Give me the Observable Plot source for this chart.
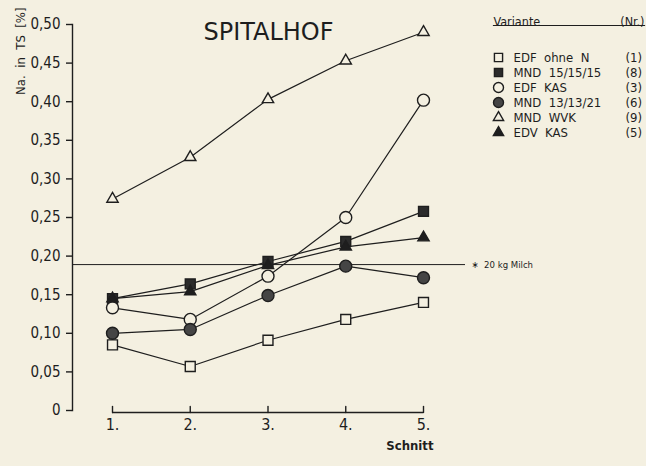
<!DOCTYPE html>
<html><head><meta charset="utf-8">
<script src="https://cdn.jsdelivr.net/npm/d3@7"></script>
<script src="https://cdn.jsdelivr.net/npm/@observablehq/plot@0.6"></script>
<style>
html,body{margin:0;padding:0;background:#f4f0e1;}
#wrap{position:relative;width:646px;height:466px;overflow:hidden;}
#legend{position:absolute;left:480px;top:0;}
svg text{white-space:pre;}
</style></head><body><div id="wrap"><div id="main"></div><div id="legend"></div></div>
<script>
// ---- data ----
const schnitt = [1, 2, 3, 4, 5];
const xTickLabels = ["1.", "2.", "3.", "4.", "5."];
const yTicks = [0, 0.05, 0.10, 0.15, 0.20, 0.25, 0.30, 0.35, 0.40, 0.45, 0.50];
const variants = ["EDF  ohne  N", "MND  15/15/15", "EDF  KAS", "MND  13/13/21", "MND  WVK", "EDV  KAS"];
const variantNr = ["(1)", "(8)", "(3)", "(6)", "(9)", "(5)"];
const edfOhneN  = [0.085, 0.057, 0.091, 0.118, 0.140];
const mnd151515 = [0.145, 0.164, 0.193, 0.219, 0.258];
const edfKas    = [0.133, 0.118, 0.174, 0.250, 0.402];
const mnd131321 = [0.100, 0.105, 0.149, 0.187, 0.172];
const mndWvk    = [0.274, 0.328, 0.403, 0.453, 0.490];
const edvKas    = [0.145, 0.154, 0.188, 0.212, 0.224];
const milch = 0.189;
const milchLabel = "\u2217  20 kg Milch";
const title = "SPITALHOF";
const yLabel = "Na.  in  TS  [%]";
const xLabel = "Schnitt";

// ---- styling ----
const ink = "#1e1e1e";
const paper = "#f4f0e1";
const seriesValues = [edfOhneN, mnd151515, edfKas, mnd131321, mndWvk, edvKas];
const symbols = ["square", "square", "circle", "circle", "triangle", "triangle"];
const fills = [paper, "#2b2b2b", paper, "#454545", paper, ink];
const radius = {square: 5.6, circle: 6, triangle: 4.2};
const legendRadius = {square: 4.6, circle: 5, triangle: 3.8};

const rows = [];
variants.forEach((v, i) => seriesValues[i].forEach((val, j) =>
  rows.push({variant: v, schnitt: schnitt[j], value: val, sym: symbols[i], fill: fills[i]})));
const legendRows = variants.map((v, i) => ({variant: v, nr: variantNr[i], sym: symbols[i], fill: fills[i]}));

const dots = (data, opts, rmap) => ["square", "circle", "triangle"].map(s =>
  Plot.dot(data, {...opts, filter: d => d.sym === s, symbol: s, r: rmap[s], fill: "fill", stroke: ink, strokeWidth: 1.4}));

const fmt = d => d === 0 ? "0" : d.toFixed(2).replace(".", ",");

const main = Plot.plot({
  width: 646, height: 466,
  marginLeft: 72, marginRight: 181, marginTop: 24, marginBottom: 56,
  x: {domain: [1, 5], insetLeft: 40, insetRight: 42},
  y: {domain: [0, 0.5]},
  style: {background: paper, color: ink, fontFamily: "'DejaVu Sans Condensed', 'DejaVu Sans', sans-serif"},
  marks: [
    Plot.frame({anchor: "left", stroke: ink, strokeWidth: 1.4}),
    Plot.axisY(yTicks, {tickSize: 6, tickPadding: 6, tickFormat: fmt, fontSize: 15, label: null, strokeWidth: 1.4}),
    Plot.ruleY([schnitt[0]], {y: () => 0, x1: schnitt[0], x2: schnitt[4], dy: 2, stroke: ink, strokeWidth: 1.4}),
    Plot.vector(schnitt, {x: d => d, y: () => 0, length: 6, anchor: "start", dy: 2, stroke: ink, strokeWidth: 1.4,
      shape: {draw(ctx, l) { ctx.moveTo(0, 0); ctx.lineTo(0, -l); }}}),
    Plot.axisX(schnitt, {tickSize: 0, tickPadding: 8, tickFormat: d => xTickLabels[schnitt.indexOf(d)], fontSize: 16, label: null}),
    Plot.ruleY([milch], {stroke: ink, strokeWidth: 1}),
    Plot.text([milchLabel], {y: () => milch, frameAnchor: "right", dx: 6, textAnchor: "start", fontSize: 9.5}),
    Plot.line(rows, {x: "schnitt", y: "value", z: "variant", stroke: ink, strokeWidth: 1.2}),
    ...dots(rows, {x: "schnitt", y: "value"}, radius),
    Plot.text([title], {frameAnchor: "top-left", dx: 196, dy: -2, textAnchor: "middle", fontSize: 24, fontFamily: "'DejaVu Sans', sans-serif"}),
    Plot.text([yLabel], {frameAnchor: "top-left", dx: -57, dy: -17, rotate: -90, textAnchor: "end", fontSize: 13}),
    Plot.text([xLabel], {frameAnchor: "bottom-right", dx: -32, dy: 39, textAnchor: "end", fontSize: 13, fontWeight: "bold"})
  ]
});
document.getElementById("main").append(main);

const legend = Plot.plot({
  width: 166, height: 150,
  marginLeft: 13, marginRight: 2, marginTop: 25, marginBottom: 0,
  x: {axis: null},
  y: {type: "point", domain: variants, padding: 0, insetTop: 30, insetBottom: 17, axis: null},
  style: {background: "transparent", color: ink, fontFamily: "'DejaVu Sans Condensed', 'DejaVu Sans', sans-serif"},
  marks: [
    Plot.frame({anchor: "top", stroke: ink, strokeWidth: 1.2}),
    Plot.text(["Variante"], {frameAnchor: "top-left", dy: -8, textAnchor: "start", fontSize: 12.5}),
    Plot.text(["(Nr.)"], {frameAnchor: "top-right", dy: -8, textAnchor: "end", fontSize: 12.5}),
    ...dots(legendRows, {y: "variant", frameAnchor: "left", dx: 5}, legendRadius),
    Plot.text(legendRows, {y: "variant", text: "variant", frameAnchor: "left", dx: 20, textAnchor: "start", fontSize: 13}),
    Plot.text(legendRows, {y: "variant", text: "nr", frameAnchor: "left", dx: 132, textAnchor: "start", fontSize: 13})
  ]
});
document.getElementById("legend").append(legend);
</script></body></html>
